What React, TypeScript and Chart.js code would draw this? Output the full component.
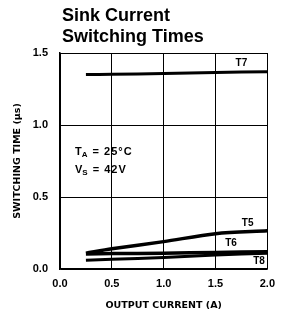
import React, { useEffect, useRef } from "react";
import { Chart, registerables } from "chart.js";

Chart.register(...registerables);

const outputCurrent = [0.25, 0.5, 1.0, 1.5, 2.0];
const t7 = [1.35, 1.352, 1.358, 1.365, 1.37];
const t5 = [0.11, 0.14, 0.19, 0.245, 0.265];
const t6 = [0.105, 0.107, 0.11, 0.115, 0.12];
const t8 = [0.06, 0.067, 0.08, 0.098, 0.11];
const yTicks = [0, 0.5, 1.0, 1.5];
const xTicks = [0, 0.5, 1.0, 1.5, 2.0];
const titleLines = ["Sink Current", "Switching Times"];

const FONT = "'Liberation Sans', Arial, sans-serif";
const AXFONT = "'DejaVu Sans', sans-serif";

const overlayPlugin = {
  id: "overlay",
  afterDraw(chart: any) {
    const ctx = chart.ctx;
    const xs = chart.scales.x;
    const ys = chart.scales.y;
    ctx.save();
    ctx.fillStyle = "#000";
    // title
    ctx.font = `bold 18px ${FONT}`;
    ctx.textBaseline = "alphabetic";
    ctx.textAlign = "left";
    ctx.fillText(titleLines[0], 62, 21);
    ctx.fillText(titleLines[1], 62, 42);
    // series labels
    ctx.font = `bold 10px ${FONT}`;
    ctx.textAlign = "center";
    ctx.textBaseline = "middle";
    const lbl = (t: string, x: number, y: number) =>
      ctx.fillText(t, xs.getPixelForValue(x), ys.getPixelForValue(y));
    lbl("T7", 1.75, 1.43);
    lbl("T5", 1.81, 0.32);
    lbl("T6", 1.65, 0.18);
    lbl("T8", 1.92, 0.055);
    // conditions
    (ctx as any).letterSpacing = "1px";
    const sub = (main: string, s: string, rest: string, x: number, y: number) => {
      ctx.textAlign = "left";
      ctx.font = `bold 11px ${FONT}`;
      ctx.fillText(main, x, y);
      let w = ctx.measureText(main).width;
      ctx.font = `bold 8px ${FONT}`;
      ctx.fillText(s, x + w - 1, y + 3);
      w += ctx.measureText(s).width;
      ctx.font = `bold 11px ${FONT}`;
      ctx.fillText(rest, x + w - 1, y);
    };
    sub("T", "A", " = 25°C", 75, 152);
    sub("V", "S", " = 42V", 75, 170);
    (ctx as any).letterSpacing = "0px";
    ctx.restore();
  },
};

export default function App() {
  const ref = useRef<HTMLCanvasElement>(null);
  useEffect(() => {
    const mk = (d: number[]) => outputCurrent.map((x, i) => ({ x, y: d[i] }));
    const ds = (label: string, d: number[], w: number) => ({
      label,
      data: mk(d),
      borderColor: "#000",
      backgroundColor: "#000",
      borderWidth: w,
      pointRadius: 0,
      tension: 0.3,
      fill: false,
    });
    const chart = new Chart(ref.current!, {
      type: "line",
      data: {
        datasets: [ds("T7", t7, 3), ds("T5", t5, 3.5), ds("T6", t6, 3.5), ds("T8", t8, 3)],
      },
      options: {
        animation: false,
        responsive: false,
        layout: { padding: { top: 53, right: 9, left: 0, bottom: 0 } },
        plugins: { legend: { display: false }, tooltip: { enabled: false } },
        scales: {
          x: {
            type: "linear",
            min: 0,
            max: 2,
            afterBuildTicks: (s: any) => {
              s.ticks = xTicks.map((v) => ({ value: v }));
            },
            afterFit: (s: any) => {
              s.height = 47;
            },
            grid: { color: "#000", lineWidth: 1, drawTicks: false },
            border: { color: "#000", width: 1.5 },
            ticks: {
              color: "#000",
              padding: 8,
              font: { family: FONT, weight: "bold", size: 11 },
              callback: (v: any) => Number(v).toFixed(1),
              maxRotation: 0,
            },
            title: {
              display: true,
              text: "OUTPUT CURRENT (A)",
              color: "#000",
              font: { family: AXFONT, weight: "bold", size: 9.5 },
              padding: { top: 4, bottom: 5 },
            },
          },
          y: {
            type: "linear",
            min: 0,
            max: 1.5,
            afterBuildTicks: (s: any) => {
              s.ticks = yTicks.map((v) => ({ value: v }));
            },
            afterFit: (s: any) => {
              s.width = 60;
            },
            grid: { color: "#000", lineWidth: 1, drawTicks: false },
            border: { color: "#000", width: 1.5 },
            ticks: {
              color: "#000",
              padding: 12,
              font: { family: FONT, weight: "bold", size: 11 },
              callback: (v: any) => Number(v).toFixed(1),
            },
            title: {
              display: true,
              text: "SWITCHING TIME (μs)",
              color: "#000",
              font: { family: AXFONT, weight: "bold", size: 9.5 },
              padding: { top: 12, bottom: 0 },
            },
          },
        },
      },
      plugins: [overlayPlugin],
    } as any);
    return () => chart.destroy();
  }, []);
  return (
    <div style={{ position: "fixed", left: 0, top: 0, width: 283, height: 316, background: "#fff" }}>
      <canvas ref={ref} width={283} height={316} style={{ display: "block" }} />
    </div>
  );
}
